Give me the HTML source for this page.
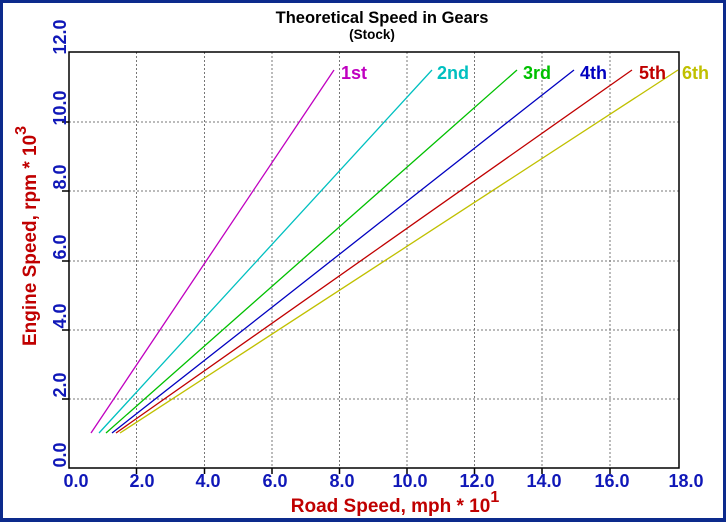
<!DOCTYPE html>
<html><head><meta charset="utf-8"><style>
html,body{margin:0;padding:0;width:726px;height:522px;overflow:hidden;background:#fff}
</style></head><body>
<svg width="726" height="522" xmlns="http://www.w3.org/2000/svg" font-family="Liberation Sans, Arial, sans-serif" font-weight="bold">
<rect x="0" y="0" width="726" height="522" fill="#fff"/>
<rect x="1.5" y="1.5" width="723" height="519" fill="none" stroke="#0c2a8c" stroke-width="3"/>
<rect x="0" y="518" width="726" height="4" fill="#0c2a8c"/>
<text x="382" y="23" text-anchor="middle" font-size="16.5" fill="#000">Theoretical Speed in Gears</text>
<text x="372" y="39" text-anchor="middle" font-size="13.5" fill="#000">(Stock)</text>
<g stroke="#777" stroke-width="1" stroke-dasharray="2,2">
<line x1="136.5" y1="52" x2="136.5" y2="468"/><line x1="204.5" y1="52" x2="204.5" y2="468"/>
<line x1="272" y1="52" x2="272" y2="468"/><line x1="339.5" y1="52" x2="339.5" y2="468"/>
<line x1="407" y1="52" x2="407" y2="468"/><line x1="474.5" y1="52" x2="474.5" y2="468"/>
<line x1="542" y1="52" x2="542" y2="468"/><line x1="610" y1="52" x2="610" y2="468"/>
<line x1="69" y1="399" x2="679" y2="399"/><line x1="69" y1="330" x2="679" y2="330"/>
<line x1="69" y1="261" x2="679" y2="261"/><line x1="69" y1="191" x2="679" y2="191"/>
<line x1="69" y1="122" x2="679" y2="122"/>
</g>
<rect x="69" y="52" width="610" height="416" fill="none" stroke="#000" stroke-width="1.5"/>
<g stroke="#000" stroke-width="1.5">
<line x1="62" y1="399" x2="69" y2="399"/><line x1="62" y1="330" x2="69" y2="330"/>
<line x1="62" y1="261" x2="69" y2="261"/><line x1="62" y1="191" x2="69" y2="191"/>
<line x1="62" y1="122" x2="69" y2="122"/>
<line x1="136.5" y1="468" x2="136.5" y2="474"/><line x1="204.5" y1="468" x2="204.5" y2="474"/>
<line x1="272" y1="468" x2="272" y2="474"/><line x1="339.5" y1="468" x2="339.5" y2="474"/>
<line x1="407" y1="468" x2="407" y2="474"/><line x1="474.5" y1="468" x2="474.5" y2="474"/>
<line x1="542" y1="468" x2="542" y2="474"/><line x1="610" y1="468" x2="610" y2="474"/>
</g>
<g fill="#1018b8" font-size="18" text-anchor="middle">
<text x="76" y="487">0.0</text><text x="142" y="487">2.0</text><text x="208" y="487">4.0</text>
<text x="275" y="487">6.0</text><text x="342" y="487">8.0</text><text x="410" y="487">10.0</text>
<text x="477" y="487">12.0</text><text x="544" y="487">14.0</text><text x="612" y="487">16.0</text>
<text x="686" y="487">18.0</text>
<text transform="translate(66,455) rotate(-90)">0.0</text>
<text transform="translate(66,385) rotate(-90)">2.0</text>
<text transform="translate(66,316) rotate(-90)">4.0</text>
<text transform="translate(66,247) rotate(-90)">6.0</text>
<text transform="translate(66,177) rotate(-90)">8.0</text>
<text transform="translate(66,108) rotate(-90)">10.0</text>
<text transform="translate(66,37) rotate(-90)">12.0</text>
</g>
<text x="395" y="512" text-anchor="middle" font-size="19" fill="#c00000">Road Speed, mph * 10<tspan font-size="16" dy="-10">1</tspan></text>
<text transform="translate(36,236) rotate(-90)" text-anchor="middle" font-size="19" fill="#c00000">Engine Speed, rpm * 10<tspan font-size="16" dy="-10">3</tspan></text>
<g stroke-width="1.3" fill="none">
<line x1="91" y1="433" x2="334" y2="70" stroke="#c000c0"/>
<line x1="99" y1="433" x2="432" y2="70" stroke="#00c0c0"/>
<line x1="106" y1="433" x2="517" y2="70" stroke="#00c000"/>
<line x1="112" y1="433" x2="574" y2="70" stroke="#0000c0"/>
<line x1="116" y1="433" x2="632" y2="70" stroke="#c00000"/>
<line x1="120" y1="433" x2="678" y2="70" stroke="#c0c000"/>
</g>
<g font-size="18">
<text x="341" y="79" fill="#c000c0">1st</text>
<text x="437" y="79" fill="#00c0c0">2nd</text>
<text x="523" y="79" fill="#00c000">3rd</text>
<text x="580" y="79" fill="#0000c0">4th</text>
<text x="639" y="79" fill="#c00000">5th</text>
<text x="682" y="79" fill="#c0c000">6th</text>
</g>
</svg>
</body></html>
